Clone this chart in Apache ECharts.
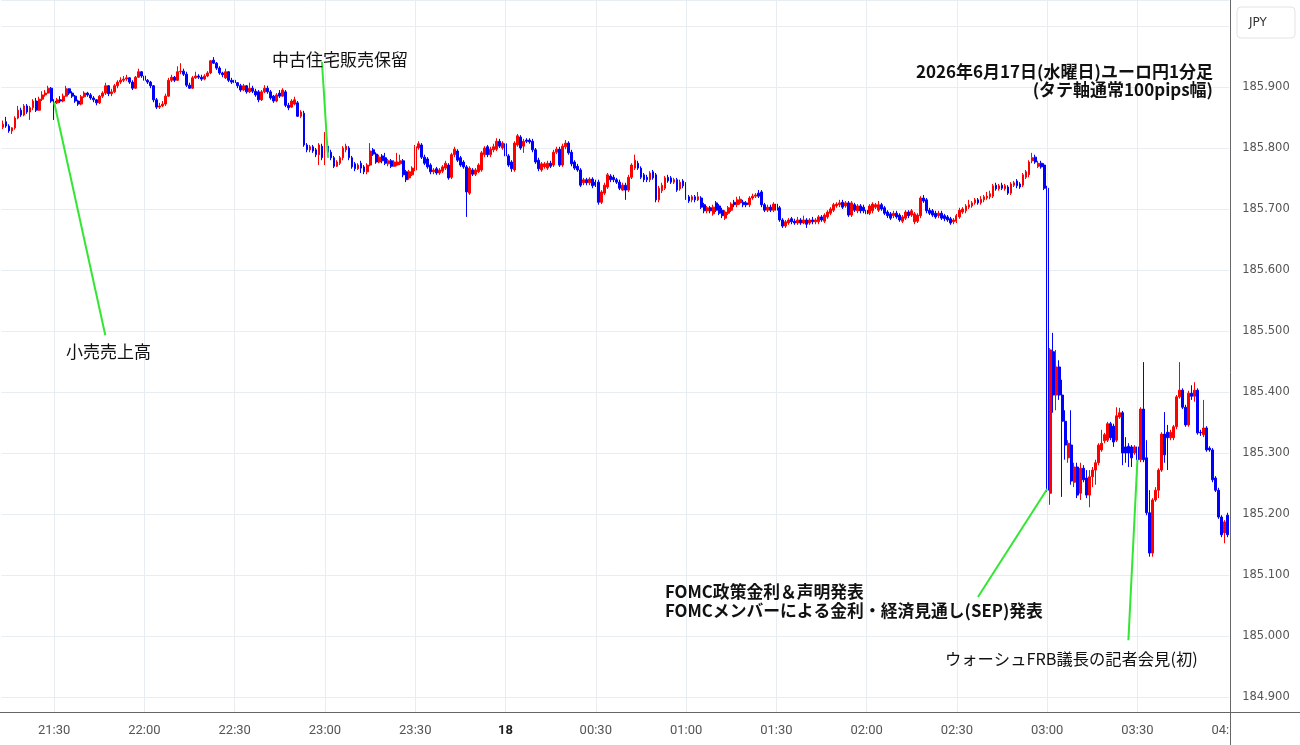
<!DOCTYPE html>
<html><head><meta charset="utf-8">
<script src="https://cdn.jsdelivr.net/npm/echarts@6.0.0/dist/echarts.min.js"></script>
<style>html,body{margin:0;padding:0;background:#fff}#c{width:1300px;height:745px}</style>
</head><body><div id="c"></div>
<script>
// EUR/JPY 1-minute candles [open, close, low, high], 2026-06-17 21:13 .. 06-18 04:00 (JST)
const c2113 = [
[185.834,185.839,185.831,185.845],[185.843,185.836,185.833,185.851],[185.836,185.828,185.825,185.839],[185.828,185.833,185.823,185.834],
[185.833,185.849,185.830,185.852],[185.849,185.862,185.847,185.869],[185.862,185.854,185.851,185.866],[185.854,185.869,185.852,185.872],
[185.869,185.859,185.856,185.872],[185.859,185.866,185.846,185.869],[185.866,185.877,185.862,185.880],[185.877,185.862,185.859,185.882],
[185.862,185.880,185.861,185.884],[185.880,185.887,185.877,185.893],[185.887,185.890,185.884,185.895],[185.890,185.898,185.889,185.902],
[185.898,185.877,185.874,185.900],[185.877,185.874,185.846,185.880],[185.874,185.879,185.872,185.882],[185.879,185.877,185.874,185.885],
[185.877,185.885,185.875,185.889],[185.885,185.897,185.884,185.902],[185.897,185.890,185.887,185.898],[185.890,185.885,185.882,185.893],
[185.885,185.877,185.874,185.887],[185.877,185.872,185.869,185.879],[185.872,185.884,185.870,185.887],[185.884,185.890,185.882,185.893],
[185.890,185.887,185.884,185.892],[185.887,185.882,185.879,185.890],[185.882,185.879,185.875,185.885],[185.879,185.874,185.870,185.880],
[185.874,185.885,185.872,185.887],[185.885,185.890,185.882,185.893],[185.890,185.902,185.887,185.907],[185.902,185.889,185.885,185.903],
[185.889,185.892,185.885,185.897],[185.892,185.902,185.890,185.905],[185.902,185.908,185.898,185.911],[185.908,185.911,185.905,185.916],
[185.911,185.913,185.908,185.918],[185.913,185.915,185.910,185.920],[185.915,185.908,185.905,185.916],[185.908,185.898,185.895,185.911],
[185.898,185.916,185.897,185.918],[185.916,185.925,185.915,185.930],[185.925,185.918,185.915,185.926]
];
const c2200 = [
[185.918,185.911,185.908,185.921],[185.911,185.908,185.905,185.913],[185.908,185.902,185.898,185.910],[185.902,185.879,185.875,185.903],
[185.879,185.867,185.864,185.882],[185.867,185.869,185.864,185.874],[185.869,185.872,185.867,185.877],[185.872,185.885,185.869,185.889],
[185.885,185.911,185.884,185.915],[185.911,185.916,185.908,185.920],[185.916,185.911,185.908,185.918],[185.911,185.925,185.910,185.934],
[185.925,185.926,185.921,185.939],[185.926,185.921,185.918,185.930],[185.921,185.903,185.900,185.925],[185.903,185.898,185.897,185.907],
[185.898,185.915,185.897,185.918],[185.915,185.918,185.913,185.925],[185.918,185.916,185.913,185.921],[185.916,185.913,185.910,185.920],
[185.913,185.918,185.911,185.921],[185.918,185.923,185.916,185.926],[185.923,185.943,185.921,185.944],[185.944,185.939,185.938,185.949],
[185.939,185.931,185.928,185.941],[185.931,185.923,185.920,185.934],[185.923,185.920,185.916,185.925],[185.915,185.925,185.913,185.930],
[185.925,185.911,185.908,185.926],[185.911,185.908,185.905,185.915],[185.911,185.907,185.903,185.916],[185.907,185.902,185.898,185.908],
[185.902,185.895,185.892,185.905],[185.895,185.902,185.893,185.905],[185.902,185.892,185.889,185.903],[185.892,185.898,185.890,185.907],
[185.898,185.893,185.890,185.902],[185.893,185.887,185.884,185.897],[185.892,185.879,185.875,185.895],[185.879,185.892,185.877,185.895],
[185.892,185.898,185.890,185.903],[185.898,185.892,185.889,185.902],[185.892,185.882,185.879,185.895],[185.885,185.877,185.874,185.887],
[185.877,185.887,185.875,185.890],[185.890,185.885,185.882,185.895],[185.885,185.895,185.884,185.898],[185.892,185.870,185.867,185.895],
[185.870,185.866,185.862,185.874],[185.867,185.877,185.866,185.880],[185.872,185.879,185.870,185.884],[185.874,185.852,185.851,185.877],
[185.852,185.859,185.849,185.862],[185.857,185.805,185.802,185.861],[185.805,185.797,185.793,185.808],[185.797,185.802,185.793,185.805],
[185.802,185.795,185.792,185.805],[185.797,185.789,185.785,185.800],[185.789,185.805,185.772,185.808],[185.803,185.784,185.780,185.807]
];
const c2300 = [
[185.784,185.800,185.772,185.826],[185.803,185.793,185.790,185.807],[185.793,185.784,185.780,185.797],[185.784,185.770,185.767,185.787],
[185.770,185.777,185.769,185.780],[185.775,185.784,185.772,185.787],[185.784,185.800,185.780,185.803],[185.797,185.803,185.793,185.807],
[185.800,185.784,185.780,185.803],[185.784,185.769,185.766,185.787],[185.774,185.766,185.762,185.777],[185.766,185.772,185.764,185.775],
[185.775,185.767,185.759,185.779],[185.769,185.761,185.757,185.772],[185.761,185.772,185.757,185.775],[185.772,185.795,185.770,185.808],
[185.797,185.790,185.787,185.800],[185.790,185.777,185.774,185.793],[185.777,185.785,185.775,185.789],[185.787,185.779,185.775,185.790],
[185.784,185.775,185.772,185.792],[185.774,185.779,185.770,185.782],[185.779,185.770,185.767,185.782],[185.770,185.777,185.769,185.780],
[185.772,185.777,185.770,185.792],[185.774,185.779,185.772,185.789],[185.779,185.756,185.752,185.782],[185.761,185.748,185.744,185.764],
[185.751,185.761,185.748,185.764],[185.756,185.767,185.754,185.770],[185.764,185.802,185.762,185.805],[185.800,185.807,185.797,185.811],
[185.805,185.785,185.782,185.808],[185.785,185.775,185.772,185.789],[185.782,185.769,185.766,185.785],[185.772,185.761,185.757,185.775],
[185.761,185.764,185.757,185.767],[185.766,185.759,185.756,185.769],[185.759,185.764,185.756,185.767],[185.762,185.769,185.759,185.772],
[185.767,185.775,185.764,185.779],[185.772,185.751,185.748,185.775],[185.752,185.789,185.749,185.792],[185.789,185.798,185.785,185.802],
[185.795,185.780,185.777,185.798],[185.784,185.772,185.769,185.787],[185.777,185.769,185.766,185.780],[185.769,185.728,185.687,185.772],
[185.726,185.767,185.723,185.770],[185.764,185.757,185.754,185.767],[185.757,185.764,185.754,185.767],[185.761,185.772,185.759,185.775],
[185.764,185.792,185.761,185.795],[185.789,185.800,185.785,185.803],[185.802,185.789,185.785,185.805],[185.789,185.798,185.785,185.802],
[185.797,185.802,185.793,185.807],[185.798,185.811,185.795,185.816],[185.811,185.803,185.800,185.815],[185.800,185.808,185.797,185.811]
];
const c0000 = [
[185.807,185.787,185.784,185.810],[185.787,185.772,185.769,185.790],[185.777,185.766,185.761,185.780],[185.764,185.808,185.761,185.811],
[185.805,185.820,185.802,185.823],[185.818,185.800,185.797,185.821],[185.803,185.811,185.792,185.815],[185.813,185.811,185.808,185.816],
[185.813,185.810,185.807,185.816],[185.811,185.797,185.793,185.815],[185.797,185.777,185.774,185.800],[185.780,185.766,185.762,185.784],
[185.764,185.774,185.761,185.777],[185.769,185.774,185.766,185.777],[185.767,185.775,185.764,185.779],[185.775,185.770,185.767,185.779],
[185.772,185.793,185.769,185.797],[185.793,185.798,185.790,185.802],[185.798,185.772,185.769,185.802],[185.772,185.803,185.769,185.807],
[185.802,185.808,185.798,185.813],[185.808,185.792,185.789,185.811],[185.793,185.774,185.770,185.797],[185.777,185.767,185.764,185.780],
[185.770,185.764,185.761,185.774],[185.764,185.739,185.736,185.767],[185.743,185.748,185.739,185.751],[185.748,185.743,185.739,185.751],
[185.743,185.749,185.739,185.752],[185.749,185.738,185.734,185.752],[185.744,185.739,185.736,185.748],[185.744,185.711,185.707,185.748],
[185.711,185.728,185.708,185.731],[185.726,185.739,185.723,185.743],[185.736,185.756,185.733,185.759],[185.754,185.748,185.744,185.757],
[185.752,185.748,185.744,185.756],[185.748,185.744,185.741,185.751],[185.744,185.734,185.731,185.748],[185.731,185.739,185.730,185.743],
[185.739,185.731,185.715,185.743],[185.731,185.752,185.728,185.756],[185.752,185.772,185.749,185.775],[185.767,185.780,185.764,185.789],
[185.775,185.767,185.764,185.779],[185.767,185.752,185.749,185.770],[185.756,185.748,185.744,185.759],[185.752,185.748,185.744,185.756],
[185.748,185.759,185.744,185.762],[185.761,185.751,185.748,185.764],[185.756,185.715,185.711,185.759],[185.715,185.734,185.711,185.738],
[185.730,185.739,185.726,185.743],[185.734,185.751,185.731,185.754],[185.752,185.746,185.743,185.756],[185.751,185.744,185.741,185.754],
[185.744,185.748,185.741,185.751],[185.748,185.731,185.728,185.751],[185.733,185.744,185.730,185.748],[185.746,185.738,185.734,185.749]
];
const c0100 = [
[185.741,185.718,185.715,185.744],[185.720,185.713,185.710,185.723],[185.715,185.720,185.711,185.723],[185.720,185.715,185.711,185.723],
[185.715,185.720,185.713,185.728],[185.718,185.703,185.700,185.721],[185.707,185.697,185.693,185.710],[185.697,185.702,185.693,185.705],
[185.702,185.697,185.693,185.705],[185.692,185.703,185.689,185.707],[185.710,185.698,185.695,185.713],[185.705,185.693,185.690,185.708],
[185.698,185.689,185.685,185.702],[185.685,185.695,185.682,185.698],[185.693,185.702,185.690,185.705],[185.698,185.708,185.695,185.711],
[185.711,185.707,185.703,185.715],[185.707,185.715,185.703,185.720],[185.710,185.716,185.707,185.721],[185.711,185.707,185.703,185.715],
[185.710,185.707,185.703,185.713],[185.707,185.718,185.703,185.721],[185.718,185.721,185.715,185.725],[185.721,185.723,185.718,185.726],
[185.726,185.721,185.718,185.731],[185.728,185.707,185.703,185.731],[185.707,185.698,185.695,185.710],[185.698,185.703,185.695,185.707],
[185.703,185.698,185.695,185.707],[185.698,185.708,185.695,185.711],[185.708,185.698,185.695,185.711],[185.702,185.682,185.679,185.705],
[185.682,185.672,185.669,185.685],[185.672,185.679,185.669,185.682],[185.677,185.682,185.674,185.685],[185.684,185.679,185.675,185.687],
[185.680,185.677,185.674,185.684],[185.677,185.682,185.674,185.687],[185.682,185.677,185.674,185.685],[185.677,185.682,185.675,185.689],
[185.682,185.675,185.669,185.685],[185.677,185.682,185.674,185.685],[185.682,185.679,185.675,185.687],[185.679,185.682,185.675,185.685],
[185.679,185.687,185.675,185.690],[185.687,185.682,185.679,185.690],[185.680,185.690,185.677,185.693],[185.687,185.695,185.684,185.698],
[185.693,185.700,185.690,185.703],[185.698,185.707,185.695,185.710],[185.705,185.708,185.702,185.711],[185.707,185.710,185.703,185.715],
[185.711,185.703,185.700,185.715],[185.705,185.710,185.702,185.713],[185.710,185.690,185.687,185.713],[185.690,185.710,185.687,185.713],
[185.707,185.698,185.695,185.710],[185.697,185.705,185.693,185.708],[185.705,185.697,185.693,185.708],[185.703,185.697,185.693,185.707]
];
const c0200 = [
[185.698,185.692,185.689,185.702],[185.693,185.705,185.690,185.708],[185.697,185.708,185.693,185.711],[185.703,185.707,185.700,185.710],
[185.698,185.707,185.695,185.713],[185.707,185.700,185.697,185.710],[185.702,185.693,185.690,185.705],[185.695,185.689,185.685,185.698],
[185.692,185.685,185.682,185.695],[185.689,185.693,185.685,185.697],[185.693,185.687,185.684,185.697],[185.690,185.682,185.679,185.693],
[185.680,185.687,185.677,185.690],[185.685,185.695,185.682,185.698],[185.695,185.689,185.685,185.698],[185.690,185.697,185.687,185.700],
[185.679,185.692,185.675,185.695],[185.680,185.690,185.677,185.693],[185.689,185.718,185.685,185.721],[185.718,185.713,185.710,185.723],
[185.715,185.697,185.693,185.718],[185.698,185.693,185.690,185.702],[185.697,185.690,185.687,185.700],[185.693,185.687,185.684,185.697],
[185.689,185.693,185.685,185.697],[185.693,185.685,185.682,185.697],[185.689,185.684,185.680,185.692],[185.687,185.682,185.679,185.690],
[185.684,185.677,185.674,185.687],[185.679,185.682,185.675,185.685],[185.680,185.689,185.677,185.692],[185.687,185.698,185.684,185.702],
[185.695,185.700,185.692,185.703],[185.697,185.705,185.693,185.708],[185.703,185.707,185.700,185.715],[185.705,185.710,185.702,185.713],
[185.710,185.715,185.707,185.718],[185.715,185.710,185.707,185.718],[185.710,185.716,185.707,185.721],[185.715,185.720,185.711,185.723],
[185.718,185.721,185.715,185.728],[185.720,185.725,185.716,185.730],[185.721,185.738,185.718,185.741],[185.739,185.733,185.730,185.743],
[185.733,185.738,185.730,185.741],[185.739,185.734,185.731,185.743],[185.733,185.738,185.730,185.741],[185.736,185.726,185.723,185.739],
[185.726,185.741,185.723,185.744],[185.739,185.743,185.736,185.746],[185.746,185.738,185.734,185.749],[185.741,185.736,185.733,185.744],
[185.739,185.756,185.736,185.759],[185.752,185.761,185.749,185.764],[185.756,185.777,185.752,185.780],[185.779,185.784,185.775,185.792],
[185.785,185.777,185.774,185.789],[185.770,185.775,185.767,185.779],[185.775,185.769,185.766,185.779],[185.772,185.734,185.731,185.775]
];
const c0300 = [
[185.734,185.239,185.236,185.738],[185.234,185.469,185.215,185.472],[185.466,185.395,185.366,185.497],[185.395,185.441,185.370,185.469],
[185.441,185.395,185.387,185.452],[185.395,185.352,185.228,185.420],[185.352,185.313,185.289,185.370],[185.292,185.316,185.284,185.321],
[185.313,185.254,185.248,185.370],[185.252,185.277,185.244,185.284],[185.277,185.231,185.226,185.284],[185.234,185.275,185.223,185.284],
[185.275,185.256,185.252,185.280],[185.259,185.231,185.226,185.272],[185.231,185.261,185.211,185.272],[185.261,185.272,185.244,185.277],
[185.272,185.284,185.248,185.289],[185.284,185.313,185.280,185.316],[185.305,185.316,185.302,185.338],[185.320,185.330,185.316,185.333],
[185.321,185.348,185.318,185.351],[185.348,185.325,185.321,185.351],[185.344,185.318,185.310,185.348],[185.321,185.361,185.318,185.375],
[185.359,185.366,185.356,185.374],[185.366,185.300,185.280,185.369],[185.310,185.300,185.284,185.326],[185.311,185.300,185.277,185.316],
[185.310,185.292,185.277,185.313],[185.300,185.310,185.297,185.313],[185.310,185.289,185.284,185.313],[185.289,185.372,185.285,185.375],
[185.372,185.289,185.285,185.449],[185.292,185.202,185.198,185.321],[185.202,185.136,185.130,185.239],[185.136,185.223,185.130,185.226],
[185.223,185.239,185.220,185.244],[185.239,185.272,185.226,185.275],[185.272,185.331,185.269,185.334],[185.331,185.297,185.284,185.367],
[185.334,185.325,185.272,185.346],[185.325,185.334,185.321,185.338],[185.325,185.343,185.321,185.346],[185.343,185.392,185.339,185.395],
[185.392,185.403,185.389,185.449],[185.403,185.375,185.372,185.406],[185.375,185.346,185.343,185.379],[185.346,185.398,185.343,185.402],
[185.398,185.393,185.387,185.411],[185.393,185.403,185.384,185.416],[185.403,185.333,185.330,185.406],[185.334,185.333,185.328,185.338],
[185.330,185.341,185.326,185.387],[185.341,185.305,185.302,185.344],[185.308,185.305,185.302,185.311],[185.305,185.256,185.252,185.308],
[185.259,185.239,185.236,185.262],[185.239,185.195,185.192,185.243],[185.195,185.166,185.162,185.198],[185.169,185.187,185.152,185.190],
[185.198,185.166,185.162,185.202]
];
const firstMinute = '21:13';
const gridTimes = ['21:30','22:00','22:30','23:00','23:30','00:00','00:30','01:00','01:30','02:00','02:30','03:00','03:30'];
const yTicks = [184.9,185.0,185.1,185.2,185.3,185.4,185.5,185.6,185.7,185.8,185.9,186.0];
// annotation leader lines: [[time, price], [time, price]]
const annoLines = [
  [['21:30',185.875],['21:47',185.493]],
  [['22:59',185.941],['23:01',185.784]],
  [['02:37',185.064],['03:00',185.241]],
  [['03:27',184.993],['03:30',185.289]]
];
const annoTexts = [
  {t:'中古住宅販売保留', x:272, y:60, a:'left', w:'normal', s:17},
  {t:'小売売上高', x:66, y:352, a:'left', w:'normal', s:17},
  {t:'2026年6月17日(水曜日)ユーロ円1分足', x:1213, y:72, a:'right', w:'bold', s:17},
  {t:'(タテ軸通常100pips幅)', x:1213, y:90, a:'right', w:'bold', s:17},
  {t:'FOMC政策金利＆声明発表', x:665, y:592, a:'left', w:'bold', s:16.8},
  {t:'FOMCメンバーによる金利・経済見通し(SEP)発表', x:665, y:611, a:'left', w:'bold', s:16.8},
  {t:'ウォーシュFRB議長の記者会見(初)', x:945, y:659, a:'left', w:'normal', s:16.3}
];

const candles = [].concat(c2113, c2200, c2300, c0000, c0100, c0200, c0300);
const times = [];
(function(){
  let h = +firstMinute.slice(0,2), m = +firstMinute.slice(3);
  const p = n => (n < 10 ? '0' : '') + n;
  for (let k = 0; k < candles.length; k++) {
    times.push(p(h) + ':' + p(m));
    m++; if (m === 60) { m = 0; h = (h + 1) % 24; }
  }
})();
const idx = t => times.indexOf(t);

const chart = echarts.init(document.getElementById('c'), null, {renderer:'canvas'});
const graphics = [];
annoTexts.forEach(a => graphics.push({
  type:'text', z:100, style:{text:a.t, x:a.x, y:a.y, fill:'#111', textAlign:a.a, textVerticalAlign:'middle',
  font: a.w + ' ' + a.s + 'px "Noto Sans CJK JP"'}
}));
graphics.push({type:'rect', z:90, shape:{x:1230.5, y:713, width:70, height:32}, style:{fill:'#fff'}});
graphics.push({type:'line', z:95, shape:{x1:0, y1:712.5, x2:1300, y2:712.5}, style:{stroke:'#666', lineWidth:1}});
graphics.push({type:'line', z:95, shape:{x1:1230.5, y1:0, x2:1230.5, y2:745}, style:{stroke:'#666', lineWidth:1}});
graphics.push({type:'rect', z:96, shape:{x:1237, y:7, width:58, height:31, r:4}, style:{fill:'#fff', stroke:'#e3e3e3', lineWidth:1}});
graphics.push({type:'text', z:97, style:{text:'JPY', x:1258, y:23, fill:'#333', textAlign:'center', textVerticalAlign:'middle', font:'12px "DejaVu Sans"'}});

chart.setOption({
  animation:false,
  backgroundColor:'#fff',
  grid:{left:1.5, right:70.8, top:0, bottom:33, containLabel:false},
  xAxis:{type:'category', data:times, boundaryGap:true,
    axisLine:{show:false}, axisTick:{show:false}, splitLine:{show:false},
    axisLabel:{interval:(i,v)=> v.endsWith(':00') || v.endsWith(':30'),
      formatter: v => v === '00:00' ? '{b|18}' : v,
      color:'#555', fontFamily:'Roboto', fontSize:13, margin:12,
      rich:{b:{fontWeight:'bold', color:'#222', fontFamily:'Roboto', fontSize:13}}}},
  yAxis:{type:'value', position:'right', min:184.8754, max:186.0426, splitNumber:11, minInterval:0.1, maxInterval:0.1, scale:true,
    axisLine:{show:false}, axisTick:{show:false},
    axisLabel:{margin:13, color:'#555', fontFamily:'DejaVu Sans', fontSize:11.5,
      formatter: v => yTicks.some(t => Math.abs(t - v) < 1e-6) ? v.toFixed(3) : ''},
    splitLine:{lineStyle:{color:'#e8edf2', width:1}}},
  graphic:graphics,
  series:[
    {type:'line', data:[], silent:true, z:1,
      markLine:{silent:true, symbol:['none','none'], label:{show:false}, animation:false,
        lineStyle:{color:'#e8edf2', width:1, type:'solid'}, emphasis:{disabled:true},
        data: gridTimes.map(t => ({xAxis: idx(t)}))}},
    {type:'candlestick', data:candles, z:2, barWidth:2.3,
      itemStyle:{color:'#ff0000', color0:'#0000ff', borderColor:'#ff0000', borderColor0:'#0000ff', borderWidth:1}},
    {type:'line', data:[], silent:true, z:5,
      markLine:{silent:true, symbol:['none','none'], label:{show:false}, animation:false,
        lineStyle:{color:'#33e633', width:2, type:'solid'}, emphasis:{disabled:true},
        data: annoLines.map(p => [{coord:[idx(p[0][0]), p[0][1]]}, {coord:[idx(p[1][0]), p[1][1]]}])}}
  ]
});
</script></body></html>
